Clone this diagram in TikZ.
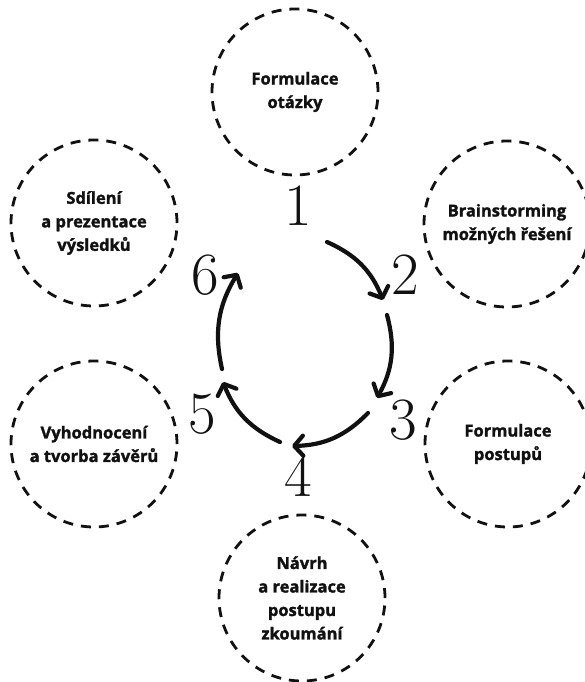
\documentclass[tikz,border=0pt]{standalone}
\usepackage{fontspec}
\newfontfamily\stepfont{Open Sans}[BoldFeatures={FakeBold=1.6}]
\usetikzlibrary{arrows.meta}
\definecolor{ink}{HTML}{111111}
\begin{document}
\begin{tikzpicture}[x=1pt,y=-1pt,
  phase/.style={circle, draw=ink, line width=2.8pt, dash pattern=on 10pt off 8pt,
    minimum size=166pt, inner sep=0pt, align=center, text=ink,
    font=\stepfont\bfseries\fontsize{16.5}{23.5}\selectfont},
  num/.style={font=\fontsize{60}{60}\selectfont, text=ink, inner sep=0pt},
  cyc/.style={line width=4.2pt, draw=ink, line cap=round, bend left=22,
    -{Straight Barb[length=9pt,width=20pt,line width=4.2pt,round]}}
]
\useasboundingbox (0,0) rectangle (584,682);

% the six phases
\node[phase] (p1) at (295,92)  {Formulace\\otázky};
\node[phase] (p2) at (507,224) {Brainstorming\\možných řešení};
\node[phase] (p3) at (508,444) {Formulace\\postupů};
\node[phase] (p4) at (302,598) {Návrh\\a realizace\\postupu\\zkoumání};
\node[phase] (p5) at (94,444)  {Vyhodnocení\\a tvorba závěrů};
\node[phase] (p6) at (94,223)  {Sdílení\\a prezentace\\výsledků};

% step numbers
\node[num] (n1) at (298,206) {1};
\node[num] (n2) at (405,275) {2};
\node[num] (n3) at (403,420) {3};
\node[num] (n4) at (298,476) {4};
\node[num] (n5) at (202,414) {5};
\node[num] (n6) at (205,275) {6};

% end points of the cycle arrows
\coordinate (a1s) at (327,242); \coordinate (a1e) at (383,300);
\coordinate (a2s) at (387,315); \coordinate (a2e) at (377,398);
\coordinate (a3s) at (368,413); \coordinate (a3e) at (292,446);
\coordinate (a4s) at (280,442); \coordinate (a4e) at (223,382);
\coordinate (a5s) at (222,369); \coordinate (a5e) at (238,273);

\draw[cyc] (a1s) to (a1e);
\draw[cyc] (a2s) to (a2e);
\draw[cyc] (a3s) to (a3e);
\draw[cyc] (a4s) to (a4e);
\draw[cyc] (a5s) to (a5e);
\end{tikzpicture}
\end{document}
